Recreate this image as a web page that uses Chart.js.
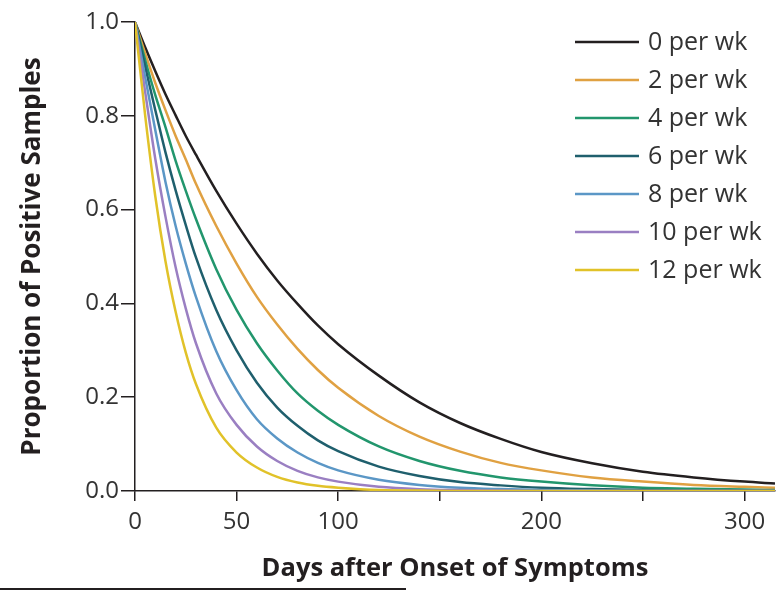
<!DOCTYPE html>
<html>
<head>
<meta charset="utf-8">
<script src="https://cdn.jsdelivr.net/npm/chart.js@4.4.1/dist/chart.umd.min.js"></script>
<style>
  html, body { margin: 0; padding: 0; background: #fff; }
  #wrap { width: 783px; height: 591px; position: relative; }
</style>
</head>
<body>
<div id="wrap"><canvas id="chart" width="783" height="591"></canvas></div>
<script>
// days after onset (x positions of the read-off points)
var days = [0, 5, 10, 15, 20, 25, 30, 40, 50, 60, 70, 80, 90, 100, 120, 140, 160, 180, 200, 225, 250, 275, 300, 315];

var seriesLabels = ['0 per wk', '2 per wk', '4 per wk', '6 per wk', '8 per wk', '10 per wk', '12 per wk'];
var seriesColors = ['#231f20', '#e0a142', '#22966d', '#1f5f6d', '#5b97c6', '#9a7fc2', '#e1c229'];

// proportion of positive samples
var wk0  = [1.000, 0.946, 0.895, 0.846, 0.801, 0.757, 0.717, 0.640, 0.570, 0.506, 0.449, 0.399, 0.353, 0.313, 0.246, 0.189, 0.145, 0.111, 0.083, 0.059, 0.041, 0.029, 0.020, 0.016];
var wk2  = [1.000, 0.933, 0.870, 0.812, 0.757, 0.707, 0.655, 0.565, 0.485, 0.414, 0.355, 0.303, 0.258, 0.220, 0.160, 0.116, 0.084, 0.060, 0.044, 0.029, 0.020, 0.013, 0.009, 0.007];
var wk4  = [1.000, 0.919, 0.844, 0.776, 0.704, 0.640, 0.580, 0.473, 0.386, 0.315, 0.257, 0.208, 0.171, 0.141, 0.095, 0.064, 0.043, 0.029, 0.020, 0.012, 0.007, 0.005, 0.003, 0.002];
var wk6  = [1.000, 0.905, 0.812, 0.722, 0.641, 0.567, 0.498, 0.386, 0.300, 0.231, 0.178, 0.139, 0.108, 0.085, 0.052, 0.032, 0.019, 0.012, 0.007, 0.004, 0.002, 0.001, 0.001, 0.000];
var wk8  = [1.000, 0.882, 0.769, 0.659, 0.565, 0.485, 0.414, 0.298, 0.215, 0.153, 0.112, 0.082, 0.060, 0.044, 0.024, 0.013, 0.007, 0.004, 0.002, 0.001, 0.000, 0.000, 0.000, 0.000];
var wk10 = [1.000, 0.851, 0.708, 0.585, 0.477, 0.389, 0.315, 0.208, 0.141, 0.095, 0.064, 0.043, 0.029, 0.020, 0.009, 0.004, 0.002, 0.001, 0.000, 0.000, 0.000, 0.000, 0.000, 0.000];
var wk12 = [1.000, 0.801, 0.628, 0.490, 0.382, 0.295, 0.228, 0.135, 0.082, 0.050, 0.030, 0.018, 0.011, 0.007, 0.002, 0.001, 0.000, 0.000, 0.000, 0.000, 0.000, 0.000, 0.000, 0.000];

var seriesValues = [wk0, wk2, wk4, wk6, wk8, wk10, wk12];

var xTicksShown = [0, 50, 100, 200, 300];

var FONT = "'Open Sans', 'Noto Sans', sans-serif";
var INK = '#231f20';

// legend drawn top right + the short rule under the figure
var legendPlugin = {
    id: 'sideLegend',
    afterDraw: function(chart) {
        var ctx = chart.ctx;
        ctx.save();
        chart.data.datasets.forEach(function(ds, i) {
            var y = 42 + i * 38;
            ctx.strokeStyle = ds.borderColor;
            ctx.lineWidth = 2.5;
            ctx.beginPath();
            ctx.moveTo(575, y);
            ctx.lineTo(639, y);
            ctx.stroke();
            ctx.fillStyle = '#333';
            ctx.font = '25px ' + FONT;
            ctx.textBaseline = 'middle';
            ctx.textAlign = 'left';
            ctx.fillText(ds.label, 648, y + 1);
        });
        ctx.strokeStyle = INK;
        ctx.lineWidth = 2;
        ctx.beginPath();
        ctx.moveTo(0, 589);
        ctx.lineTo(406, 589);
        ctx.stroke();
        ctx.restore();
    }
};

var datasets = seriesValues.map(function(vals, i) {
    return {
        label: seriesLabels[i],
        data: days.map(function(d, j) { return { x: d, y: vals[j] }; }),
        borderColor: seriesColors[i],
        borderWidth: 2.5,
        pointRadius: 0,
        fill: false,
        cubicInterpolationMode: 'monotone',
        order: seriesValues.length - i
    };
});

new Chart(document.getElementById('chart'), {
    type: 'line',
    data: { datasets: datasets },
    options: {
        responsive: false,
        animation: false,
        events: [],
        layout: { padding: { top: 22, right: 8, left: 0, bottom: 0 } },
        plugins: {
            legend: { display: false },
            tooltip: { enabled: false }
        },
        scales: {
            x: {
                type: 'linear',
                min: 0,
                max: 315,
                afterFit: function(scale) { scale.height = 100; },
                border: { display: true, color: INK, width: 1.5 },
                grid: { drawOnChartArea: false, drawTicks: true, tickLength: 10, color: INK, lineWidth: 1.5 },
                ticks: {
                    stepSize: 50,
                    includeBounds: false,
                    maxRotation: 0,
                    padding: 7,
                    color: '#333',
                    font: { family: FONT, size: 24 },
                    callback: function(v) { return xTicksShown.indexOf(v) >= 0 ? String(v) : ''; }
                },
                title: {
                    display: true,
                    text: 'Days after Onset of Symptoms',
                    color: INK,
                    font: { family: FONT, size: 25.5, weight: 'bold' },
                    padding: { top: 0, bottom: 7 }
                }
            },
            y: {
                type: 'linear',
                min: 0,
                max: 1,
                afterFit: function(scale) { scale.width = 135; },
                border: { display: true, color: INK, width: 1.5 },
                grid: { drawOnChartArea: false, drawTicks: true, tickLength: 14, color: INK, lineWidth: 1.5 },
                ticks: {
                    stepSize: 0.2,
                    padding: 2,
                    color: '#333',
                    font: { family: FONT, size: 24 },
                    callback: function(v) { return v.toFixed(1); }
                },
                title: {
                    display: true,
                    text: 'Proportion of Positive Samples',
                    color: INK,
                    font: { family: FONT, size: 26, weight: 'bold' },
                    padding: { top: 17, bottom: 0 }
                }
            }
        }
    },
    plugins: [legendPlugin]
});
</script>
</body>
</html>
